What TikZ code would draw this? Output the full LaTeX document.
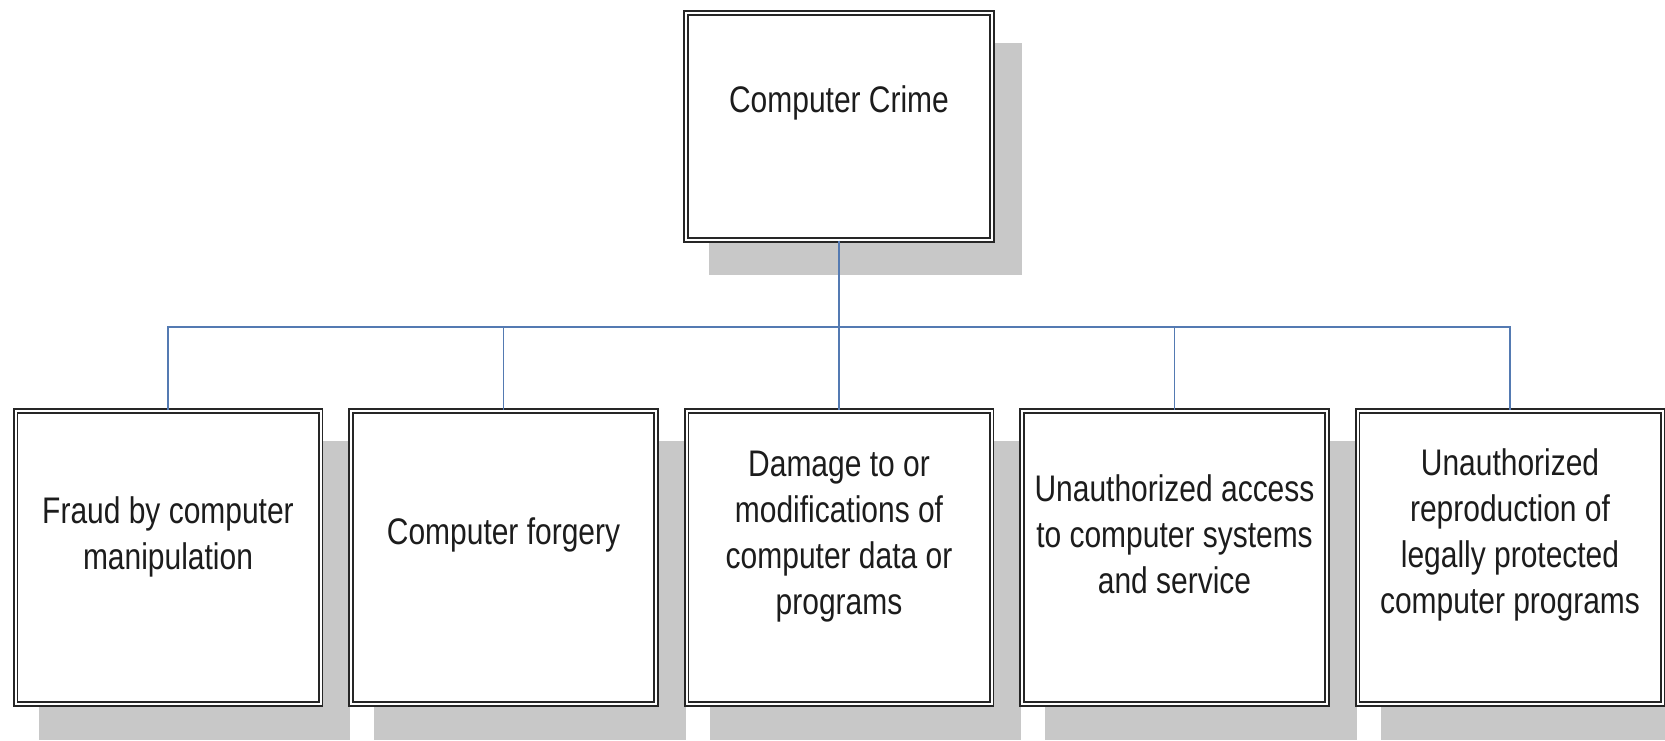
\documentclass[tikz,border=0pt]{standalone}
\usepackage{fontspec}
\setmainfont[FakeStretch=0.81]{Liberation Sans}
\usetikzlibrary{shadows}
\definecolor{linkblue}{RGB}{84,122,178}
\definecolor{shadowgray}{RGB}{200,200,200}
\definecolor{inkgray}{RGB}{28,28,28}
\begin{document}
\begin{tikzpicture}[x=1pt,y=-1pt,
  box/.style={draw=black!85, line width=1.9pt, double=white, double distance=2pt,
    fill=white, inner sep=0pt,
    general shadow={fill=shadowgray, shadow xshift=26pt, shadow yshift=-32pt, shadow scale=1.02}},
  topbox/.style={box, minimum width=306pt, minimum height=227pt},
  leafbox/.style={box, minimum width=305pt, minimum height=293pt},
  txt/.style={align=center, inner sep=0pt, text=inkgray,
    font=\fontsize{37}{46}\selectfont},
  conn/.style={draw=linkblue, line width=1.6pt}
]
\useasboundingbox (0,0) rectangle (1665,741);

% root of the tree
\node[topbox] (top) at (839,126.5) {};
\node[txt] (ttop) at (839,103) {Computer Crime};

% the five kinds of computer crime
\node[leafbox] (b1) at (168,557.5) {};
\node[leafbox] (b2) at (503.5,557.5) {};
\node[leafbox] (b3) at (839,557.5) {};
\node[leafbox] (b4) at (1174.5,557.5) {};
\node[leafbox] (b5) at (1510,557.5) {};

\node[txt] (t1) at (168,537) {Fraud by computer\\manipulation};
\node[txt] (t2) at (503.5,535) {Computer forgery};
\node[txt] (t3) at (839,537) {Damage to or\\modifications of\\computer data or\\programs};
\node[txt] (t4) at (1174.5,534) {Unauthorized access\\to computer systems\\and service};
\node[txt] (t5) at (1510,535) {Unauthorized\\reproduction of\\legally protected\\computer programs};

% tree connectors through a common horizontal bus
\coordinate (bus) at (0,327);
\foreach \b in {b1,b2,b3,b4,b5}
  \draw[conn] (top.south) -- (top.south |- bus) -| (\b.north);
\end{tikzpicture}
\end{document}
